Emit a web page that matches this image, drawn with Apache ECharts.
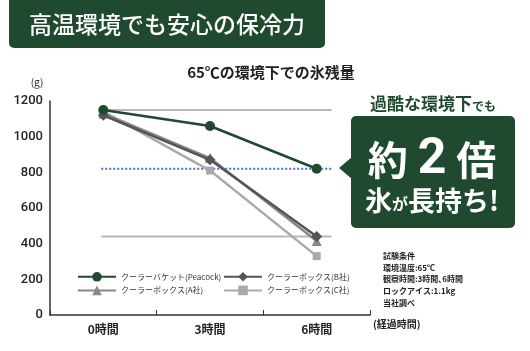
<!DOCTYPE html>
<html>
<head>
<meta charset="utf-8">
<script src="https://cdn.jsdelivr.net/npm/echarts@6/dist/echarts.min.js"></script>
<style>
  html, body { margin: 0; padding: 0; background: #fff; }
  #chart { width: 530px; height: 351px; }
</style>
</head>
<body>
<div id="chart"></div>
<script>
// データ
var categories = ['0時間', '3時間', '6時間'];
var peacock = [1150, 1060, 820];
var boxA = [1130, 880, 415];
var boxB = [1120, 870, 440];
var boxC = [1140, 810, 330];
var yTicks = [0, 200, 400, 600, 800, 1000, 1200];
var greyRefValues = [1150, 440];
var blueRefValue = 820;
var refSpan = [-0.02, 2.14]; // 補助線の範囲（カテゴリ位置）

var GREEN = '#1f4a2f';
var JP = '"Noto Sans CJK JP", sans-serif';
var NUM = 'Roboto, "Noto Sans CJK JP", sans-serif';

var chart = echarts.init(document.getElementById('chart'));

function refLine(v, color, type) {
  return {
    type: 'line',
    xAxisIndex: 1,
    silent: true,
    symbol: 'none',
    z: 1,
    lineStyle: { color: color, width: 2, type: type },
    data: [[refSpan[0], v], [refSpan[1], v]]
  };
}

function seriesOf(name, data, color, symbol, size, z) {
  return {
    name: name,
    type: 'line',
    data: data,
    symbol: symbol,
    symbolSize: size,
    z: z,
    itemStyle: { color: color },
    lineStyle: { color: color, width: 2.5 }
  };
}

var legendText = { fontSize: 8, color: '#333', fontFamily: JP };

var option = {
  backgroundColor: '#fff',
  animation: false,
  grid: { left: 50, right: 160, top: 101, bottom: 36 },
  xAxis: [
    {
      type: 'category',
      data: categories,
      boundaryGap: true,
      axisLine: { lineStyle: { color: '#333', width: 1.5 } },
      axisTick: { show: true, inside: true, length: 5, lineStyle: { color: '#333' } },
      axisLabel: { color: '#222', fontSize: 12, fontWeight: 'bold', fontFamily: JP, margin: 8 }
    },
    { type: 'value', min: -0.5, max: 2.5, show: false }
  ],
  yAxis: {
    type: 'value',
    min: yTicks[0],
    max: yTicks[yTicks.length - 1],
    interval: 200,
    splitLine: { show: false },
    axisTick: { show: false },
    axisLine: { show: true, onZero: false, lineStyle: { color: '#333', width: 1.5 } },
    axisLabel: {
      color: '#222', fontSize: 13, fontFamily: NUM, fontWeight: 500, margin: 7,
      formatter: function (v) { return String(v); }
    }
  },
  legend: [
    {
      left: 72, top: 267, orient: 'vertical', itemWidth: 38, itemHeight: 12, itemGap: 4,
      textStyle: legendText,
      data: ['クーラーバケット(Peacock)', 'クーラーボックス(A社)']
    },
    {
      left: 218, top: 267, orient: 'vertical', itemWidth: 38, itemHeight: 12, itemGap: 4,
      textStyle: legendText,
      data: ['クーラーボックス(B社)', 'クーラーボックス(C社)']
    }
  ],
  series: [
    refLine(greyRefValues[0], '#b8b8b8', 'solid'),
    refLine(greyRefValues[1], '#b8b8b8', 'solid'),
    refLine(blueRefValue, '#4a70c0', 'dotted'),
    seriesOf('クーラーボックス(C社)', boxC, '#aaaaaa', 'rect', 8, 3),
    seriesOf('クーラーボックス(A社)', boxA, '#888888', 'triangle', 10, 4),
    seriesOf('クーラーボックス(B社)', boxB, '#555555', 'diamond', 11, 5),
    seriesOf('クーラーバケット(Peacock)', peacock, GREEN, 'circle', 10, 6)
  ],
  graphic: [
    // 見出しバー
    { type: 'rect', shape: { x: 9, y: -6, width: 316, height: 54, r: 5 }, style: { fill: GREEN } },
    { type: 'text', x: 167, y: 24, style: { text: '高温環境でも安心の保冷力', fill: '#fff', font: '500 23px ' + JP, textAlign: 'center', textVerticalAlign: 'middle' } },
    // グラフタイトル
    { type: 'text', x: 271, y: 72, style: { text: '65℃の環境下での氷残量', fill: '#222', font: 'bold 15px ' + JP, textAlign: 'center', textVerticalAlign: 'middle' } },
    { type: 'text', x: 37, y: 82, style: { text: '(g)', fill: '#222', font: '10px ' + JP, textAlign: 'center', textVerticalAlign: 'middle' } },
    { type: 'text', x: 373, y: 324, style: { text: '(経過時間)', fill: '#222', font: 'bold 10px ' + JP, textAlign: 'left', textVerticalAlign: 'middle' } },
    // 吹き出し
    {
      type: 'text', x: 433, y: 104,
      style: {
        text: '{a|過酷な環境下}{b|でも}', textAlign: 'center', textVerticalAlign: 'middle',
        rich: {
          a: { fill: GREEN, font: 'bold 17px ' + JP },
          b: { fill: GREEN, font: 'bold 12px ' + JP, padding: [4, 0, 0, 0] }
        }
      }
    },
    { type: 'rect', shape: { x: 351, y: 116, width: 164, height: 112, r: 5 }, style: { fill: GREEN } },
    { type: 'polygon', shape: { points: [[352, 157], [339, 168], [352, 179]] }, style: { fill: GREEN } },
    {
      type: 'text', x: 432, y: 160,
      style: {
        text: '{a|約}{n|2}{a|倍}', textAlign: 'center', textVerticalAlign: 'middle',
        rich: {
          a: { fill: '#fff', font: 'bold 40px ' + JP },
          n: { fill: '#fff', font: 'bold 50px ' + NUM, padding: [0, 10, 0, 10] }
        }
      }
    },
    {
      type: 'text', x: 432, y: 201,
      style: {
        text: '{a|氷}{b|が}{a|長持ち!}', textAlign: 'center', textVerticalAlign: 'middle',
        rich: {
          a: { fill: '#fff', font: 'bold 27px ' + JP },
          b: { fill: '#fff', font: 'bold 16px ' + JP, padding: [6, 0, 0, 0] }
        }
      }
    },
    // 試験条件
    {
      type: 'text', x: 383, y: 250,
      style: {
        text: '試験条件\n環境温度:65℃\n観察時間:3時間､6時間\nロックアイス:1.1kg\n当社調べ',
        fill: '#222', font: 'bold 8px ' + JP, lineHeight: 11.7, textAlign: 'left', textVerticalAlign: 'top'
      }
    }
  ]
};

chart.setOption(option);
</script>
</body>
</html>
